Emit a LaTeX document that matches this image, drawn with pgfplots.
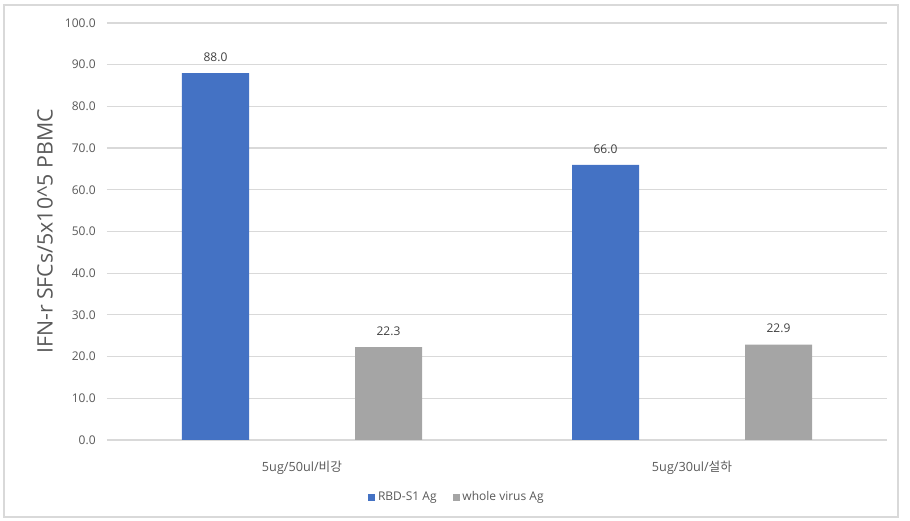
\documentclass[border=0pt]{standalone}
\usepackage{fontspec}
\setmainfont{Open Sans}
\newfontfamily\kr{Noto Sans CJK KR}
\usepackage{pgfplots}
\pgfplotsset{compat=1.18}
\definecolor{cblue}{HTML}{4472C4}
\definecolor{cgrey}{HTML}{A5A5A5}
\definecolor{gridc}{HTML}{D9D9D9}
\definecolor{tickc}{HTML}{595959}
\definecolor{valc}{HTML}{404040}
\begin{document}
\begin{tikzpicture}
\begin{axis}[
  name=ax,
  scale only axis,
  width=585pt, height=312.75pt,
  xmin=-0.5, xmax=1.5,
  ymin=0, ymax=100,
  ytick distance=10,
  xtick={0,1},
  xticklabels={{5ug/50ul/{\kr 비강}},{5ug/30ul/{\kr 설하}}},
  ymajorgrids, grid style={gridc, line width=0.9pt},
  axis line style={draw=none},
  tick style={draw=none},
  /pgf/number format/assume math mode=true,
  yticklabel={\pgfmathprintnumber[fixed,fixed zerofill,precision=1]{\tick}},
  yticklabel style={font=\fontsize{9}{11}\selectfont, text=tickc, xshift=-5pt},
  xticklabel style={font=\fontsize{9.5}{11}\selectfont, text=tickc, yshift=-8pt},
  ylabel={IFN-r SFCs/5x10\textasciicircum 5 PBMC},
  ylabel style={at={(axis description cs:0,0.5)}, anchor=center, yshift=46.5pt, font=\fontsize{16}{19}\selectfont, text=tickc},
  ybar, bar width=50.25pt,
  nodes near coords,
  nodes near coords style={font=\fontsize{9}{11}\selectfont, text=valc, anchor=center, yshift=12pt,
    /pgf/number format/fixed, /pgf/number format/fixed zerofill, /pgf/number format/precision=1},
  legend style={at={(0.449,-0.137)}, anchor=center, draw=none, font=\fontsize{9}{11}\selectfont, text=tickc,
    legend columns=2, /tikz/every even column/.append style={column sep=10pt}},
  legend image code/.code={\fill[#1] (0pt,-2.7pt) rectangle (5.4pt,2.7pt);},
  clip=false,
]
\addplot[fill=cblue, draw=none, bar shift=-64.875pt] coordinates {(0,88.0) (1,66.0)};
\addplot[fill=cgrey, draw=none, bar shift=64.875pt] coordinates {(0,22.3) (1,22.9)};
\legend{RBD-S1 Ag, whole virus Ag}
\end{axis}
\draw[gridc, line width=0.9pt] ([xshift=-77.25pt,yshift=-57.75pt]ax.south west) rectangle ([xshift=8.25pt,yshift=13.5pt]ax.north east);
\path[use as bounding box] ([xshift=-80.25pt,yshift=-60.75pt]ax.south west) rectangle ([xshift=17.25pt,yshift=17.25pt]ax.north east);
\end{tikzpicture}
\end{document}
